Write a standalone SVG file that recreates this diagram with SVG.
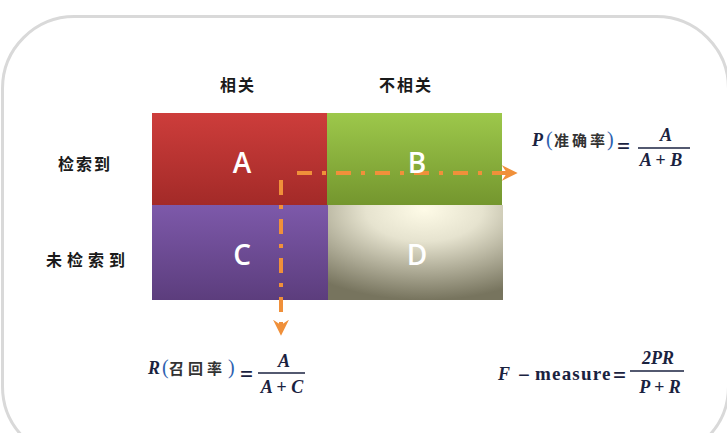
<svg xmlns="http://www.w3.org/2000/svg" width="727" height="433" viewBox="0 0 727 433">
<defs>
<style>
.hdr{font-family:"Noto Sans CJK SC","Noto Sans",sans-serif;font-size:16px;font-weight:bold;fill:#1a1a1a;text-anchor:middle}
.cell{font-family:"Open Sans","Liberation Sans",sans-serif;font-size:28px;font-weight:600;fill:#fff;text-anchor:middle}
.v{font-family:"Liberation Serif",serif;font-style:italic;font-weight:bold;font-size:18px;fill:#1a2240}
.op{font-family:"Liberation Serif",serif;font-weight:bold;font-size:18px;fill:#1a2240}
.eq{font-family:"Liberation Serif",serif;font-weight:bold;font-size:23px;fill:#1a2240}
.par{font-family:"Liberation Serif",serif;font-size:20px;fill:#2e62b0}
.cn{font-family:"Noto Sans CJK SC",sans-serif;font-size:15px;font-weight:bold;fill:#333}
.bar{stroke:#1a2240;stroke-width:1.4}
.conn{fill:none;stroke:#f0903a;stroke-width:4;stroke-dasharray:15 10 4 10}
</style>
<linearGradient id="gA" x1="0" y1="0" x2="0" y2="1"><stop offset="0" stop-color="#cd3d3b"/><stop offset="1" stop-color="#a32a28"/></linearGradient>
<linearGradient id="gB" x1="0" y1="0" x2="0" y2="1"><stop offset="0" stop-color="#9dc84b"/><stop offset="1" stop-color="#74962e"/></linearGradient>
<linearGradient id="gC" x1="0" y1="0" x2="0" y2="1"><stop offset="0" stop-color="#7d59aa"/><stop offset="1" stop-color="#5c3d7d"/></linearGradient>
<radialGradient id="gD" cx="0.55" cy="0.05" r="0.95"><stop offset="0" stop-color="#fefbe7"/><stop offset="0.35" stop-color="#e6e3cf"/><stop offset="1" stop-color="#77745e"/></radialGradient>
<marker id="arr" markerUnits="userSpaceOnUse" markerWidth="16" markerHeight="16" viewBox="0 0 15 15" refX="5" refY="7.5" orient="auto"><path d="M0,0 L15,7.5 L0,15 L5,7.5 z" fill="#f0903a"/></marker>
</defs>

<rect id="frame" x="2.5" y="16.5" width="726" height="442" rx="72" fill="#fff" stroke="#d9d9d9" stroke-width="3"/>

<g id="labels">
<text class="hdr" x="238" y="91" style="letter-spacing:2px">相关</text>
<text class="hdr" x="406" y="91" style="letter-spacing:2px">不相关</text>
<text class="hdr" x="85" y="170" style="letter-spacing:2px">检索到</text>
<text class="hdr" x="88" y="266" style="letter-spacing:5px">未检索到</text>
</g>

<g id="cellA"><rect x="152" y="113" width="175" height="92" fill="url(#gA)"/></g>
<g id="cellB"><rect x="327" y="113" width="175" height="92" fill="url(#gB)"/></g>
<g id="cellC"><rect x="152" y="205" width="176" height="95" fill="url(#gC)"/></g>
<g id="cellD"><rect x="328" y="205" width="175" height="95" fill="url(#gD)"/></g>

<g id="connectors">
<line class="conn" x1="297" y1="173" x2="507" y2="173" marker-end="url(#arr)"/>
<line class="conn" x1="281" y1="180" x2="281" y2="325" marker-end="url(#arr)"/>
</g>

<g id="cellLetters">
<text class="cell" x="242" y="173">A</text>
<text class="cell" x="417" y="173">B</text>
<text class="cell" x="242" y="265">C</text>
<text class="cell" x="417" y="265">D</text>
</g>

<g id="formulaP">
<text class="v" x="532" y="146">P</text>
<text class="par" x="546" y="146">(</text>
<text class="cn" x="554" y="146" style="letter-spacing:3px">准确率</text>
<text class="par" x="607" y="146">)</text>
<text class="eq" x="617" y="154">=</text>
<line class="bar" x1="638" y1="148" x2="690" y2="148"/>
<text class="v" x="666" y="141" text-anchor="middle">A</text>
<text class="v" x="661" y="166" text-anchor="middle">A + B</text>
</g>

<g id="formulaR">
<text class="v" x="148" y="374">R</text>
<text class="par" x="162" y="374">(</text>
<text class="cn" x="169" y="374" style="letter-spacing:4px">召回率</text>
<text class="par" x="228" y="374">)</text>
<text class="eq" x="240" y="382">=</text>
<line class="bar" x1="258" y1="373" x2="305" y2="373"/>
<text class="v" x="284" y="367" text-anchor="middle">A</text>
<text class="v" x="282" y="393" text-anchor="middle">A + C</text>
</g>

<g id="formulaF">
<text class="v" x="498" y="380">F</text>
<text class="eq" x="518" y="382" style="font-size:21px">−</text>
<text class="op" x="535" y="380" style="font-size:19px;letter-spacing:1.2px">measure</text>
<text class="eq" x="613" y="383">=</text>
<line class="bar" x1="630" y1="371" x2="684" y2="371"/>
<text class="v" x="658" y="364" text-anchor="middle">2PR</text>
<text class="v" x="660" y="393" text-anchor="middle">P + R</text>
</g>
</svg>
